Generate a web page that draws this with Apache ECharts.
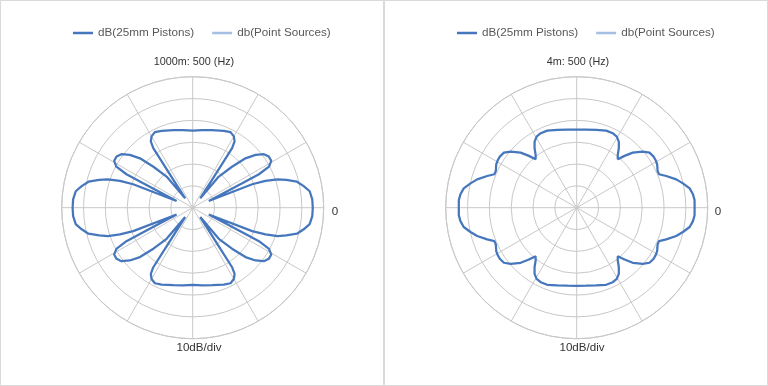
<!DOCTYPE html>
<html><head><meta charset="utf-8">
<script src="https://cdn.jsdelivr.net/npm/echarts@6/dist/echarts.min.js"></script>
<style>html,body{margin:0;padding:0;background:#fff}#c{width:768px;height:386px}</style>
</head><body><div id="c"></div>
<script>
const seriesNames = ['dB(25mm Pistons)', 'db(Point Sources)'];
const chartTitles = ['1000m: 500 (Hz)', '4m: 500 (Hz)'];
const radiusTicks = [-60, -50, -40, -30, -20, -10, 0];

const leftAngles = [0,4,8,11,14,16.5,18.5,20.2,21.5,22.7,26.3,26.8,28.3,30.8,33.9,36.9,40,43.1,46.2,50,51,55.8,56.5,57.7,60,63.4,68,76,83,90,
 97,104,112,116.6,120,122.3,123.5,124.2,129,130,133.8,136.9,140,143.1,146.1,149.2,151.7,153.2,153.7,157.3,158.5,159.8,161.5,163.5,166,169,172,176,180,
 184,188,191,194,196.5,198.5,200.2,201.5,202.7,206.3,206.8,208.3,210.8,213.9,216.9,220,223.1,226.2,230,231,235.8,236.5,237.7,240,243.4,248,256,263,270,
 277,284,292,296.6,300,302.3,303.5,304.2,309,310,313.8,316.9,320,323.1,326.1,329.2,331.7,333.2,333.7,337.3,338.5,339.8,341.5,343.5,346,349,352,356,360];
const leftDb = [-5.0,-5.1,-5.9,-8.2,-10.8,-15.3,-19,-24.5,-30.7,-52,-34.7,-26,-20.3,-18.1,-18,-19.2,-22.4,-26.9,-34,-41.4,-54.5,-40,-27.3,-24.1,-22.3,-21.3,-22,-23.4,-24.2,-24.7,
 -24.2,-23.4,-22,-21.3,-22.3,-24.1,-27.3,-40,-54.5,-41.4,-34,-26.9,-22.4,-19.2,-18,-18.1,-20.3,-26,-34.7,-52,-30.7,-24.5,-19,-15.3,-10.8,-8.2,-5.9,-5.1,-5.0,
 -5.1,-5.9,-8.2,-10.8,-15.3,-19,-24.5,-30.7,-52,-34.7,-26,-20.3,-18.1,-18,-19.2,-22.4,-26.9,-34,-41.4,-54.5,-40,-27.3,-24.1,-22.3,-21.3,-22,-23.4,-24.2,-24.7,
 -24.2,-23.4,-22,-21.3,-22.3,-24.1,-27.3,-40,-54.5,-41.4,-34,-26.9,-22.4,-19.2,-18,-18.1,-20.3,-26,-34.7,-52,-30.7,-24.5,-19,-15.3,-10.8,-8.2,-5.9,-5.1,-5.0];

const rightAngles = [0,3.7,6.6,9.7,12.9,15.9,19.5,22.1,24.5,26.5,28.5,31,33.6,37.1,40.3,44.5,47.3,49.7,52.1,54.7,57.5,60.6,64.2,69.1,76,83.2,90,
 96.8,104,110.9,115.8,119.4,122.5,125.3,127.9,130.3,132.7,135.5,139.7,142.9,146.4,149,151.5,153.5,155.5,157.9,160.5,164.1,167.1,170.3,173.4,176.3,180,
 183.7,186.6,189.7,192.9,195.9,199.5,202.1,204.5,206.5,208.5,211,213.6,217.1,220.3,224.5,227.3,229.7,232.1,234.7,237.5,240.6,244.2,249.1,256,263.2,270,
 276.8,284,290.9,295.8,299.4,302.5,305.3,307.9,310.3,312.7,315.5,319.7,322.9,326.4,329,331.5,333.5,335.5,337.9,340.5,344.1,347.1,350.3,353.4,356.3,360];
const rightDb = [-6,-5.9,-6.4,-7.5,-10.1,-12.6,-16.5,-19.3,-19.3,-18.7,-18.1,-17.8,-17.7,-18.2,-20.3,-24,-27.7,-30.9,-29.4,-26.6,-24.1,-22.6,-22.1,-22.2,-23.3,-24,-24.2,
 -24,-23.3,-22.2,-22.1,-22.6,-24.1,-26.6,-29.4,-30.9,-27.7,-24,-20.3,-18.2,-17.7,-17.8,-18.1,-18.7,-19.3,-19.3,-16.5,-12.6,-10.1,-7.5,-6.4,-5.9,-6,
 -5.9,-6.4,-7.5,-10.1,-12.6,-16.5,-19.3,-19.3,-18.7,-18.1,-17.8,-17.7,-18.2,-20.3,-24,-27.7,-30.9,-29.4,-26.6,-24.1,-22.6,-22.1,-22.2,-23.3,-24,-24.2,
 -24,-23.3,-22.2,-22.1,-22.6,-24.1,-26.6,-29.4,-30.9,-27.7,-24,-20.3,-18.2,-17.7,-17.8,-18.1,-18.7,-19.3,-19.3,-16.5,-12.6,-10.1,-7.5,-6.4,-5.9,-6];

const FONT = 'Liberation Sans';
const GRID = '#c8c8c8';
const BLUE = '#4677bd';
const LIGHT = '#a4bfe3';

function pairs(angles, vals) { return angles.map((a, i) => [vals[i], a]); }

const centers = [[192.7, 207.7], [576.7, 207.7]];
const polar = centers.map(c => ({ center: c, radius: 131 }));
const angleAxis = [0, 1].map(i => ({
  polarIndex: i, type: 'value', min: 0, max: 360, interval: 30, startAngle: 0, clockwise: false,
  axisLine: { show: true, lineStyle: { color: GRID, width: 1 } },
  axisTick: { show: false }, axisLabel: { show: false },
  splitLine: { show: true, lineStyle: { color: GRID, width: 1 } }
}));
const radiusAxis = [0, 1].map(i => ({
  polarIndex: i, type: 'value', min: radiusTicks[0], max: radiusTicks[radiusTicks.length - 1], interval: 10,
  axisLine: { show: false }, axisTick: { show: false }, axisLabel: { show: false },
  splitLine: { show: true, lineStyle: { color: GRID, width: 1 } }
}));

const series = [
  { name: seriesNames[1], type: 'line', coordinateSystem: 'polar', polarIndex: 0, symbol: 'none', data: [], lineStyle: { color: LIGHT, width: 2.25 }, itemStyle: { color: LIGHT } },
  { name: seriesNames[0], type: 'line', coordinateSystem: 'polar', polarIndex: 0, symbol: 'none', data: pairs(leftAngles, leftDb), lineStyle: { color: BLUE, width: 2.25 }, itemStyle: { color: BLUE } },
  { name: seriesNames[1], type: 'line', coordinateSystem: 'polar', polarIndex: 1, symbol: 'none', data: [], lineStyle: { color: LIGHT, width: 2.25 }, itemStyle: { color: LIGHT } },
  { name: seriesNames[0], type: 'line', coordinateSystem: 'polar', polarIndex: 1, symbol: 'none', data: pairs(rightAngles, rightDb), lineStyle: { color: BLUE, width: 2.25 }, itemStyle: { color: BLUE } }
];

const legend = [68, 452].map(x => ({
  left: x, top: 22, orient: 'horizontal', itemWidth: 20, itemHeight: 2.5, itemGap: 18,
  icon: 'rect', selectedMode: false, data: seriesNames,
  textStyle: { fontFamily: FONT, fontSize: 11.7, color: '#595959' }
}));

function txt(t, x, y, size, color) {
  return { type: 'text', x: x, y: y, silent: true,
    style: { text: t, fontFamily: FONT, fontSize: size, fill: color, textAlign: 'center', textVerticalAlign: 'middle' } };
}

const graphic = [
  { type: 'rect', shape: { x: 0.5, y: 0.5, width: 383, height: 385 }, style: { fill: 'none', stroke: '#d9d9d9', lineWidth: 1 }, silent: true },
  { type: 'rect', shape: { x: 384.5, y: 0.5, width: 383, height: 385 }, style: { fill: 'none', stroke: '#d9d9d9', lineWidth: 1 }, silent: true },
  txt(chartTitles[0], 194, 62, 10.8, '#333333'),
  txt(chartTitles[1], 578, 62, 10.8, '#333333'),
  txt('0', 335, 212, 11.6, '#333333'),
  txt('0', 718, 212, 11.6, '#333333'),
  txt('10dB/div', 199, 348, 11.6, '#333333'),
  txt('10dB/div', 582, 348, 11.6, '#333333')
];

const chart = echarts.init(document.getElementById('c'), null, { renderer: 'canvas' });
chart.setOption({
  backgroundColor: '#ffffff', animation: false,
  polar, angleAxis, radiusAxis, series, legend, graphic
});
</script></body></html>
